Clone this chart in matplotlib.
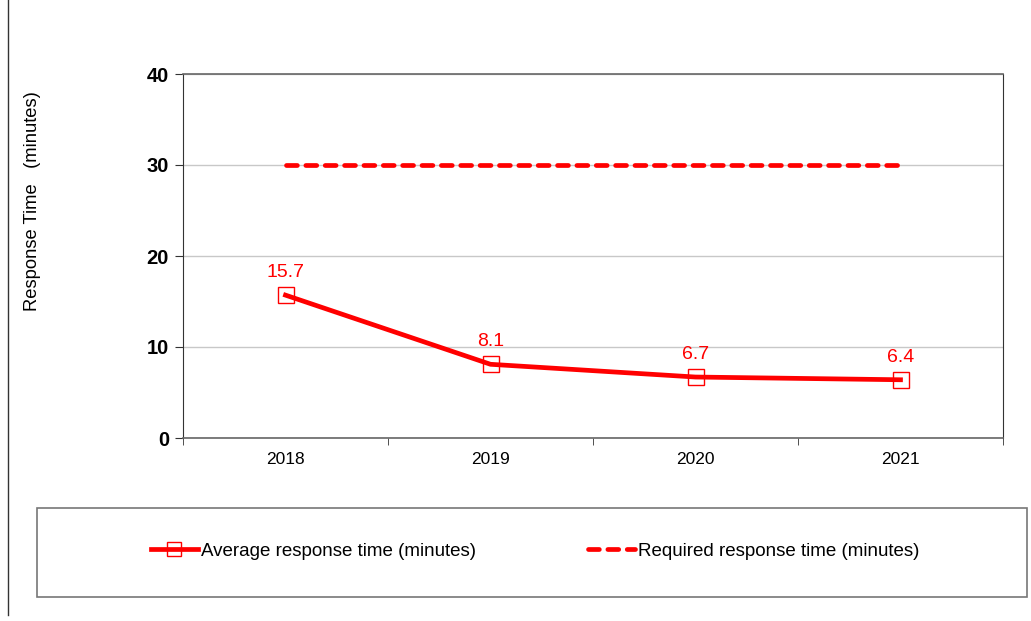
import matplotlib.pyplot as plt
from matplotlib.lines import Line2D
from matplotlib.patches import Rectangle

plt.rcParams['font.family'] = ['Liberation Sans', 'DejaVu Sans']

years = ["2018", "2019", "2020", "2021"]
avg_time = [15.7, 8.1, 6.7, 6.4]
required_time = [30, 30, 30, 30]
y_ticks = [0, 10, 20, 30, 40]

fig = plt.figure(figsize=(10.31, 6.21), dpi=100)
ax = fig.add_axes([183/1031, 1-438/621, 820/1031, 364/621])

x = list(range(len(years)))
ax.plot(x, avg_time, color='red', lw=3.4, marker='s', markersize=12,
        markerfacecolor='none', markeredgecolor='red', markeredgewidth=1.0,
        label='Average response time (minutes)', zorder=3)
ax.plot(x, required_time, color='red', lw=3.4, ls=(0, (2.3, 1.8)),
        dash_capstyle='round', label='Required response time (minutes)', zorder=3)

for xi, v in zip(x, avg_time):
    ax.annotate(f"{v}", (xi, v), xytext=(0, 13), textcoords='offset points',
                ha='center', va='baseline', color='red', fontsize=14)

ax.set_xlim(-0.5, len(years) - 0.5)
ax.set_ylim(0, 40)
ax.set_yticks(y_ticks)
ax.set_yticklabels([str(t) for t in y_ticks], fontsize=14.5, fontweight='bold')
ax.set_xticks(x)
ax.set_xticklabels(years, fontsize=12.5)
ax.set_xticks([i - 0.5 for i in range(len(years) + 1)], minor=True)
ax.tick_params(axis='x', which='major', length=0, pad=10)
ax.tick_params(axis='x', which='minor', length=5, direction='out', color='#333')
ax.tick_params(axis='y', length=6, direction='out', color='#333', pad=4)
ax.yaxis.grid(True, color='#c8c8c8', lw=1)
ax.set_axisbelow(True)
for s in ['left', 'right']:
    ax.spines[s].set_color('#333')
for s in ['top', 'bottom']:
    ax.spines[s].set_color('#666')
    ax.spines[s].set_linewidth(1.2)

fig.text(33/1031, 1-201/621, "Response Time   (minutes)", rotation=90,
         ha='center', va='center', fontsize=13.2)

# legend box
fig.patches.append(Rectangle((37/1031, 1-597/621), 990/1031, 89/621,
                             transform=fig.transFigure, fill=False,
                             edgecolor='#777', lw=1.2))
handles, labels = ax.get_legend_handles_labels()
fig.legend(handles, labels, loc='center', bbox_to_anchor=(535/1031, 1-551/621),
           ncol=2, frameon=False, fontsize=13.5, handlelength=2.5,
           handletextpad=0.15, columnspacing=6.0, markerscale=0.8)

# left border line
fig.add_artist(Line2D([8/1031, 8/1031], [1-615/621, 1], transform=fig.transFigure,
                      color='#333', lw=1))

fig.savefig('out.png', dpi=100)
